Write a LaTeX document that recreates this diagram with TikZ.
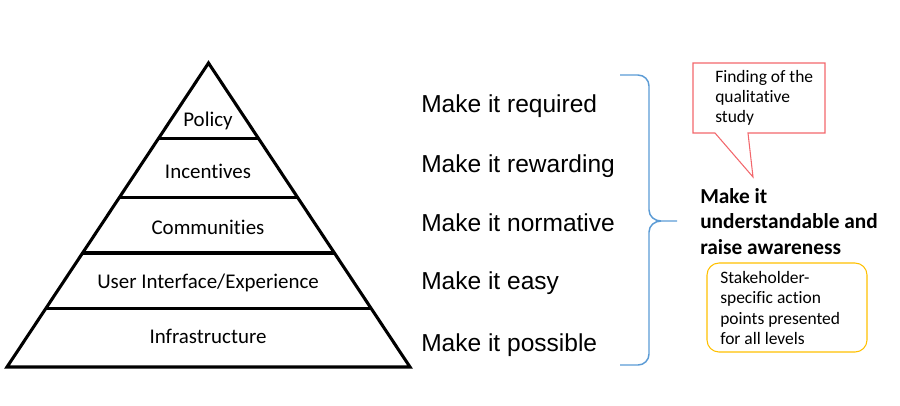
\documentclass[tikz,border=0pt]{standalone}
\usepackage{fontspec}
\setmainfont{Carlito}[Ligatures=CommonOff]
\newfontfamily\arialfont{Liberation Sans}
\usetikzlibrary{calc}
\usetikzlibrary{arrows.meta}

\definecolor{braceblue}{HTML}{5B9BD5}
\definecolor{calloutred}{HTML}{F2676C}
\definecolor{noteorange}{HTML}{FFC000}

\tikzset{
    pyrline/.style={line width=2.3pt},
    level/.style={anchor=base, inner sep=0pt, font=\fontsize{15.7}{19}\selectfont},
    make/.style={anchor=base west, inner sep=0pt, font=\arialfont\fontsize{18.4}{22}\selectfont},
    bracepath/.style={braceblue, line width=1.1pt},
    aware/.style={anchor=west, inner sep=0pt, align=left, font=\bfseries\fontsize{16}{19.1}\selectfont},
    notetext/.style={anchor=west, inner sep=0pt, align=left, font=\fontsize{13.1}{15.2}\selectfont}
}

\begin{document}
\begin{tikzpicture}[x=0.75pt, y=-0.75pt]
    \useasboundingbox (0,0) rectangle (900,405);

    % pyramid
    \coordinate (apex) at (208.5,63);
    \coordinate (bl) at (7,367);
    \coordinate (br) at (410,367);
    \draw[pyrline] (apex) -- (br) -- (bl) -- cycle;
    \foreach \t in {0.247,0.441,0.625,0.806}
        \draw[pyrline] ($(apex)!\t!(bl)$) -- ($(apex)!\t!(br)$);

    \node[level] (policy) at (208,126) {Policy};
    \node[level] (incent) at (208,178) {Incentives};
    \node[level] (commun) at (208,234) {Communities};
    \node[level] (uiux) at (208,288) {User Interface/Experience};
    \node[level] (infra) at (208,343) {Infrastructure};

    % make it ...
    \node[make] (required) at (421,112) {Make it required};
    \node[make] (rewarding) at (421,172) {Make it rewarding};
    \node[make] (normative) at (421,231) {Make it normative};
    \node[make] (easy) at (421,289) {Make it easy};
    \node[make] (possible) at (421,351) {Make it possible};

    % brace
    \coordinate (tip) at (677,221);
    \draw[bracepath] (620,75) -- (638,75) to[out=0,in=90] (649,86) -- (649,210)
        to[out=-90,in=180] (661,221) -- (tip);
    \draw[bracepath] (661,221) to[out=180,in=90] (649,232) -- (649,354)
        to[out=-90,in=0] (638,365) -- (620,365);

    \node[aware] (understand) at (700,221.5) {Make it\\understandable and\\raise awareness};

    % callout
    \draw[calloutred, line width=0.8pt] (693,63) -- (825,63) -- (825,133) -- (748,133)
        -- (753,177) -- (715,133) -- (693,133) -- cycle;
    \node[notetext] (finding) at (715,98) {Finding of the\\qualitative\\study};

    % action points
    \draw[noteorange, line width=0.8pt, rounded corners=9pt] (707,263) rectangle (867,352);
    \node[notetext] (stake) at (720,308) {Stakeholder-\\specific action\\points presented\\for all levels};
\end{tikzpicture}
\end{document}
